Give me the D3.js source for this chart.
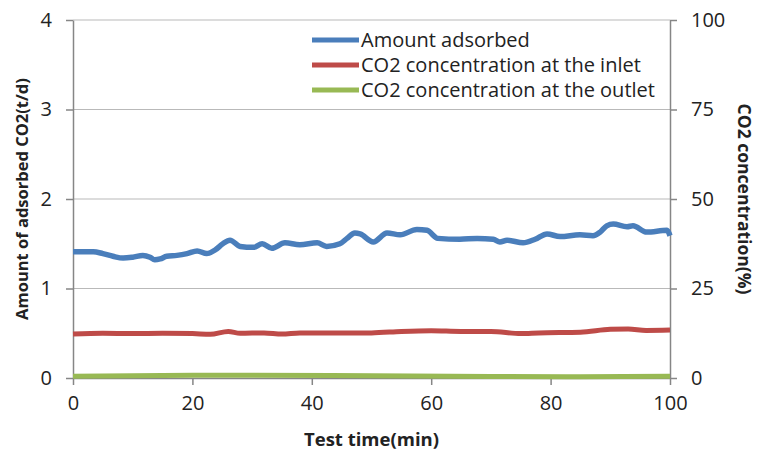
<!DOCTYPE html>
<html>
<head>
<meta charset="utf-8">
<script src="https://cdn.jsdelivr.net/npm/d3@7"></script>
<style>
  body { margin: 0; background: #fff; }
  text { font-family: "Open Sans", sans-serif; fill: #222; }
</style>
</head>
<body>
<div id="chart"></div>
<script>
// amount adsorbed (t/d), left axis
var adsTime = [0, 1.7, 3.4, 5, 6.7, 8.4, 10, 11.7, 12.9, 13.7, 14.6, 15.7, 17.4, 19.1, 20.8, 22.4, 23.8, 25.1, 26.3, 28, 30.2, 31.7, 33.3, 35.5, 38, 40.9, 42.5, 44.7, 45.9, 47.2, 48.1, 50.3, 52.6, 54.8, 57.6, 59.3, 61.1, 64.8, 67.7, 70.4, 71.5, 72.7, 75.4, 77.4, 79.4, 81.6, 84.9, 87.1, 88.3, 89.4, 90.5, 92.8, 93.8, 96.1, 99.5, 100];
var adsValue = [1.41, 1.41, 1.41, 1.39, 1.36, 1.34, 1.35, 1.37, 1.35, 1.32, 1.33, 1.36, 1.37, 1.39, 1.42, 1.39, 1.43, 1.50, 1.54, 1.47, 1.46, 1.50, 1.45, 1.51, 1.49, 1.51, 1.47, 1.50, 1.56, 1.62, 1.61, 1.52, 1.62, 1.60, 1.66, 1.65, 1.56, 1.55, 1.56, 1.55, 1.52, 1.54, 1.51, 1.55, 1.61, 1.58, 1.60, 1.59, 1.63, 1.70, 1.72, 1.69, 1.70, 1.63, 1.65, 1.59];

// CO2 concentration (%), right axis
var inletTime = [0, 5, 10, 15, 20, 23, 26, 28, 32, 35, 38, 44, 50, 55, 60, 65, 70, 75, 78, 85, 90, 93, 96, 100];
var inletValue = [12.3, 12.5, 12.4, 12.5, 12.4, 12.2, 13.0, 12.5, 12.6, 12.3, 12.6, 12.6, 12.6, 13.0, 13.2, 13.0, 13.0, 12.4, 12.6, 12.8, 13.6, 13.7, 13.3, 13.4];
var outletTime = [0, 20, 30, 50, 70, 85, 100];
var outletValue = [0.5, 0.8, 0.8, 0.6, 0.4, 0.35, 0.5];

var xTicks = [0, 20, 40, 60, 80, 100];
var leftTicks = [0, 1, 2, 3, 4];
var rightTicks = [0, 25, 50, 75, 100];
var legendNames = ["Amount adsorbed", "CO2 concentration at the inlet", "CO2 concentration at the outlet"];
var colors = ["#4a7ebb", "#be4b48", "#98b954"];

var W = 759, H = 456;
var plotL = 73, plotR = 670, plotT = 20, plotB = 378;

var svg = d3.select("#chart").append("svg")
  .attr("width", W).attr("height", H);

var x = d3.scaleLinear().domain([0, 100]).range([plotL, plotR]);
var yL = d3.scaleLinear().domain([0, 4]).range([plotB, plotT]);
var yR = d3.scaleLinear().domain([0, 100]).range([plotB, plotT]);

// gridlines
svg.selectAll(".grid").data(leftTicks.slice(1))
  .enter().append("line")
  .attr("x1", plotL).attr("x2", plotR)
  .attr("y1", function(d) { return yL(d); })
  .attr("y2", function(d) { return yL(d); })
  .style("stroke", "#b9b9b9").style("stroke-width", 1.2);

function styleAxis(g) {
  g.select(".domain").style("stroke", "#868686").style("stroke-width", 1.5);
  g.selectAll(".tick line").style("stroke", "#868686").style("stroke-width", 1.5);
  g.selectAll(".tick text").style("font-size", "20px").style("fill", "#222")
    .style("font-family", "Open Sans, sans-serif");
}

svg.append("g").attr("transform", "translate(" + plotL + ",0)")
  .call(d3.axisLeft(yL).tickValues(leftTicks).tickSize(7).tickSizeOuter(0).tickPadding(14).tickFormat(d3.format("d")))
  .call(styleAxis);

svg.append("g").attr("transform", "translate(" + plotR + ",0)")
  .call(d3.axisRight(yR).tickValues(rightTicks).tickSize(7).tickSizeOuter(0).tickPadding(14).tickFormat(d3.format("d")))
  .call(styleAxis);

svg.append("g").attr("transform", "translate(0," + plotB + ")")
  .call(d3.axisBottom(x).tickValues(xTicks).tickSize(7).tickSizeOuter(0).tickPadding(11).tickFormat(d3.format("d")))
  .call(styleAxis);

// lines
var lineL = d3.line()
  .x(function(d) { return x(d[0]); })
  .y(function(d) { return yL(d[1]); })
  .curve(d3.curveMonotoneX);
var lineR = d3.line()
  .x(function(d) { return x(d[0]); })
  .y(function(d) { return yR(d[1]); })
  .curve(d3.curveMonotoneX);

svg.append("path")
  .datum(d3.zip(outletTime, outletValue))
  .attr("d", lineR)
  .style("fill", "none").style("stroke", colors[2]).style("stroke-width", 5);
svg.append("path")
  .datum(d3.zip(inletTime, inletValue))
  .attr("d", lineR)
  .style("fill", "none").style("stroke", colors[1]).style("stroke-width", 5);
svg.append("path")
  .datum(d3.zip(adsTime, adsValue))
  .attr("d", lineL)
  .style("fill", "none").style("stroke", colors[0]).style("stroke-width", 5.5);

// legend
var leg = svg.selectAll(".leg").data(legendNames)
  .enter().append("g")
  .attr("transform", function(d, i) { return "translate(312," + (40 + i * 25) + ")"; });
leg.append("line")
  .attr("x1", 0).attr("x2", 47)
  .style("stroke", function(d, i) { return colors[i]; })
  .style("stroke-width", 5);
leg.append("text")
  .attr("x", 49).attr("y", 7)
  .style("font-size", "20px")
  .text(function(d) { return d; });

// axis titles
svg.append("text")
  .attr("x", (plotL + plotR) / 2).attr("y", 446)
  .attr("text-anchor", "middle")
  .style("font-size", "18.5px").style("font-weight", "bold")
  .text("Test time(min)");

svg.append("text")
  .attr("transform", "translate(28," + (plotT + plotB) / 2 + ") rotate(-90)")
  .attr("text-anchor", "middle")
  .style("font-size", "16.5px").style("font-weight", "bold")
  .text("Amount of adsorbed CO2(t/d)");

svg.append("text")
  .attr("transform", "translate(738," + (plotT + plotB) / 2 + ") rotate(90)")
  .attr("text-anchor", "middle")
  .style("font-size", "17.5px").style("font-weight", "bold")
  .text("CO2 concentration(%)");
</script>
</body>
</html>
